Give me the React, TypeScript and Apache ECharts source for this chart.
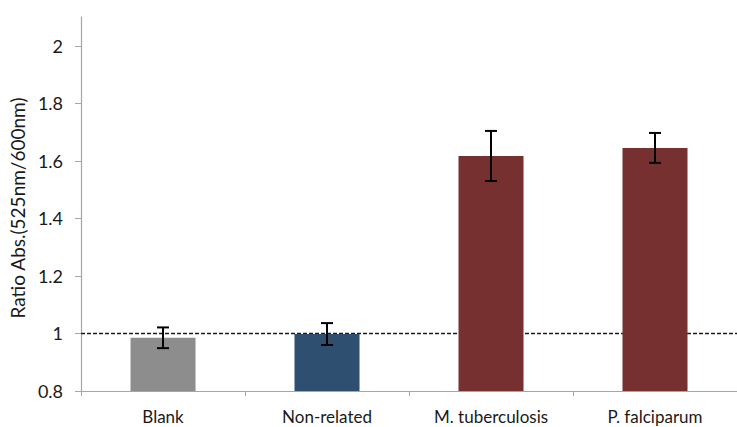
import React, { useEffect, useRef } from "react";
import * as echarts from "echarts";

const categories = ["Blank", "Non-related", "M. tuberculosis", "P. falciparum"];
const means = [0.985, 0.998, 1.617, 1.645];
const errors = [0.036, 0.038, 0.087, 0.052];
const barColors = ["#8d8d8d", "#2e4f70", "#76302f", "#76302f"];
const yTicks = [0.8, 1, 1.2, 1.4, 1.6, 1.8, 2];
const referenceLevel = 1;

export default function App() {
  const ref = useRef<HTMLDivElement>(null);
  useEffect(() => {
    document.body.style.margin = "0";
    const chart = echarts.init(ref.current!, null, { renderer: "svg" });
    const font = "Lato, 'Open Sans', sans-serif";
    chart.setOption({
      animation: false,
      backgroundColor: "#ffffff",
      grid: { left: 79, right: -2, top: 17, bottom: 36 },
      xAxis: {
        type: "category",
        data: categories,
        axisLine: { lineStyle: { color: "#a6a6a6", width: 1.2 } },
        axisTick: { show: true, length: 5, lineStyle: { color: "#a6a6a6" } },
        axisLabel: { color: "#1a1a1a", fontSize: 17, fontFamily: font, margin: 17 },
      },
      yAxis: {
        type: "value",
        min: 0.8,
        max: 2.1,
        name: "Ratio Abs.(525nm/600nm)",
        nameLocation: "middle",
        nameGap: 51,
        nameTextStyle: { color: "#1a1a1a", fontSize: 19, fontFamily: font, padding: [0, 8, 0, 0] },
        splitLine: { show: false },
        axisLine: { show: true, lineStyle: { color: "#a6a6a6", width: 1.2 } },
        axisTick: { show: true, length: 6, lineStyle: { color: "#a6a6a6" }, customValues: yTicks },
        axisLabel: {
          color: "#1a1a1a",
          fontSize: 18,
          fontFamily: font,
          margin: 18,
          customValues: yTicks,
          formatter: (v: number) => String(Math.round(v * 10) / 10),
        },
      },
      series: [
        {
          type: "bar",
          z: 2,
          barWidth: 65,
          data: means.map((v, i) => ({ value: v, itemStyle: { color: barColors[i] } })),
          markLine: {
            z: 1,
            silent: true,
            symbol: "none",
            label: { show: false },
            lineStyle: { color: "#1a1a1a", width: 1.3, type: [4, 2] },
            data: [{ yAxis: referenceLevel }],
          },
        },
        {
          type: "custom",
          z: 3,
          data: means.map((v, i) => [i, v - errors[i], v + errors[i]]),
          renderItem: (params: any, api: any) => {
            const x = api.value(0);
            const lo = api.coord([x, api.value(1)]);
            const hi = api.coord([x, api.value(2)]);
            const hw = 6;
            const style = { stroke: "#000", lineWidth: 2 };
            return {
              type: "group",
              children: [
                { type: "line", shape: { x1: lo[0], y1: lo[1], x2: hi[0], y2: hi[1] }, style },
                { type: "line", shape: { x1: lo[0] - hw, y1: lo[1], x2: lo[0] + hw, y2: lo[1] }, style },
                { type: "line", shape: { x1: hi[0] - hw, y1: hi[1], x2: hi[0] + hw, y2: hi[1] }, style },
              ],
            };
          },
        },
      ],
    });
    return () => chart.dispose();
  }, []);
  return <div ref={ref} style={{ width: 737, height: 427 }} />;
}
